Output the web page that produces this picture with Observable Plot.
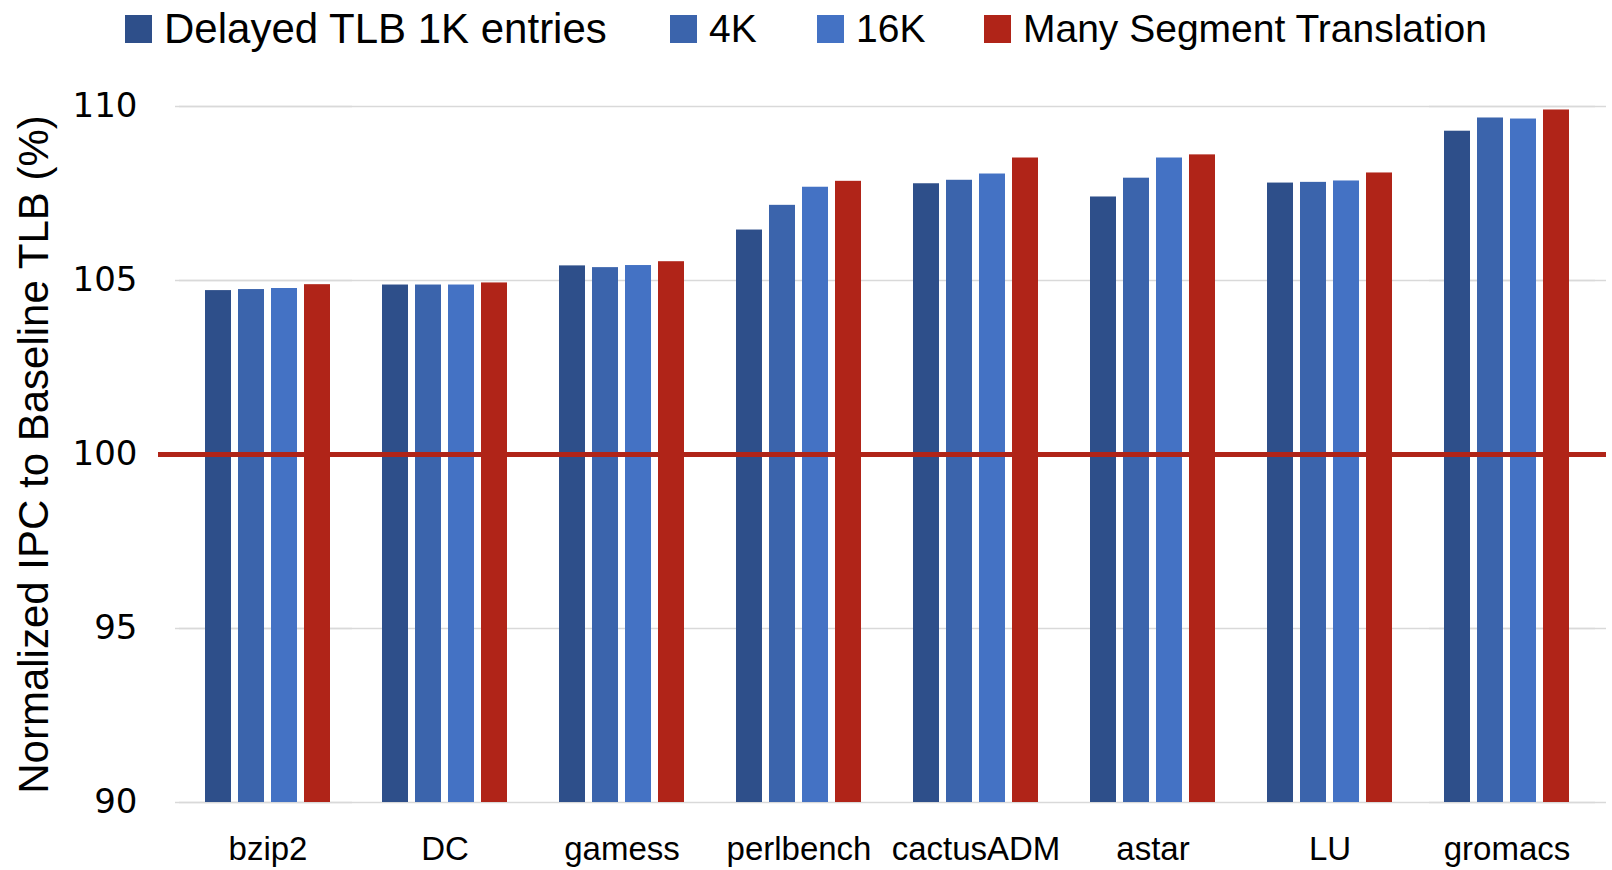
<!DOCTYPE html>
<html>
<head>
<meta charset="utf-8">
<script src="https://cdn.jsdelivr.net/npm/d3@7"></script>
<script src="https://cdn.jsdelivr.net/npm/@observablehq/plot@0.6"></script>
<style>
  html, body { margin: 0; padding: 0; background: #fff; }
  body { width: 1612px; height: 870px; overflow: hidden; font-family: "Liberation Sans", Arial, sans-serif; }
  #legend { position: relative; height: 58px; width: 1612px; }
  .item { position: absolute; top: 0; height: 58px; display: flex; align-items: center; font-size: 39px; color: #000; white-space: nowrap; }
  .sw { width: 27px; height: 28px; margin-right: 12px; }
  svg { display: block; }
</style>
</head>
<body>
<div id="legend"></div>
<div id="chart"></div>
<script>
const categories = ["bzip2", "DC", "gamess", "perlbench", "cactusADM", "astar", "LU", "gromacs"];
const series = ["Delayed TLB 1K entries", "4K", "16K", "Many Segment Translation"];
const colors = ["#2E4F8A", "#3B64AC", "#4472C4", "#B02418"];
const delayed1K = [104.71, 104.87, 105.42, 106.45, 107.78, 107.40, 107.80, 109.29];
const delayed4K = [104.74, 104.87, 105.37, 107.16, 107.88, 107.94, 107.82, 109.67];
const delayed16K = [104.77, 104.87, 105.43, 107.68, 108.06, 108.52, 107.86, 109.64];
const manySegment = [104.88, 104.93, 105.54, 107.85, 108.52, 108.61, 108.09, 109.90];
const yTicks = [90, 95, 100, 105, 110];
const gridTicks = [90, 95, 105, 110];
const baseline = 100;
const yLabel = "Normalized IPC to Baseline TLB (%)";

const seriesValues = [delayed1K, delayed4K, delayed16K, manySegment];
const data = [];
categories.forEach((c, i) => {
  series.forEach((s, j) => data.push({category: c, series: s, value: seriesValues[j][i]}));
});
const first = categories[0];
const last = categories[categories.length - 1];
const gridFirst = gridTicks.map(y => ({category: first, y}));
const gridLast = gridTicks.map(y => ({category: last, y}));

// legend
const legendLeft = [125, 670, 817, 984];
const legendSize = [42, 39, 39, 39];
const legend = document.getElementById("legend");
series.forEach((s, j) => {
  const item = document.createElement("div");
  item.className = "item";
  item.style.left = legendLeft[j] + "px";
  item.style.fontSize = legendSize[j] + "px";
  const sw = document.createElement("div");
  sw.className = "sw";
  sw.style.background = colors[j];
  const t = document.createElement("span");
  t.textContent = s;
  item.appendChild(sw);
  item.appendChild(t);
  legend.appendChild(item);
});

const chart = Plot.plot({
  width: 1612,
  height: 812,
  marginLeft: 176,
  marginRight: 14,
  marginTop: 48,
  marginBottom: 68,
  style: {background: "#fff", fontFamily: "Liberation Sans, Arial, sans-serif"},
  fx: {domain: categories, padding: 0, label: null, axis: null},
  x: {domain: series, paddingInner: 0.2, paddingOuter: 0.78, axis: null},
  y: {domain: [90, 110], axis: null},
  color: {domain: series, range: colors},
  marks: [
    Plot.ruleY(gridTicks, {stroke: "#D9D9D9", strokeWidth: 1.5}),
    Plot.ruleY(gridFirst, {fx: "category", y: "y", stroke: "#D9D9D9", strokeWidth: 1.5, dx: -4}),
    Plot.ruleY(gridLast, {fx: "category", y: "y", stroke: "#D9D9D9", strokeWidth: 1.5, dx: 11}),
    Plot.barY(data, {fx: "category", x: "series", y1: 90, y2: "value", fill: "series"}),
    Plot.ruleY([baseline], {stroke: "#B02418", strokeWidth: 5}),
    Plot.ruleY([{category: first, y: baseline}], {fx: "category", y: "y", stroke: "#B02418", strokeWidth: 5, dx: -21}),
    Plot.ruleY([{category: last, y: baseline}], {fx: "category", y: "y", stroke: "#B02418", strokeWidth: 5, dx: 11}),
    Plot.axisY({ticks: yTicks, tickSize: 0, tickPadding: 42, fontSize: 34, fontFamily: "DejaVu Sans", label: null, tickFormat: d => String(d)}),
    Plot.axisY({ticks: [], tickSize: 0, label: yLabel, labelAnchor: "center", labelArrow: "none", labelOffset: 161, fontSize: 42, fontFamily: "Liberation Sans"}),
    Plot.axisFx({anchor: "bottom", domain: categories, tickSize: 0, tickPadding: 34, fontSize: 33, fontFamily: "Liberation Sans", label: null})
  ]
});
chart.querySelectorAll("text").forEach(t => t.setAttribute("fill", "#000"));
document.getElementById("chart").appendChild(chart);
</script>
</body>
</html>
